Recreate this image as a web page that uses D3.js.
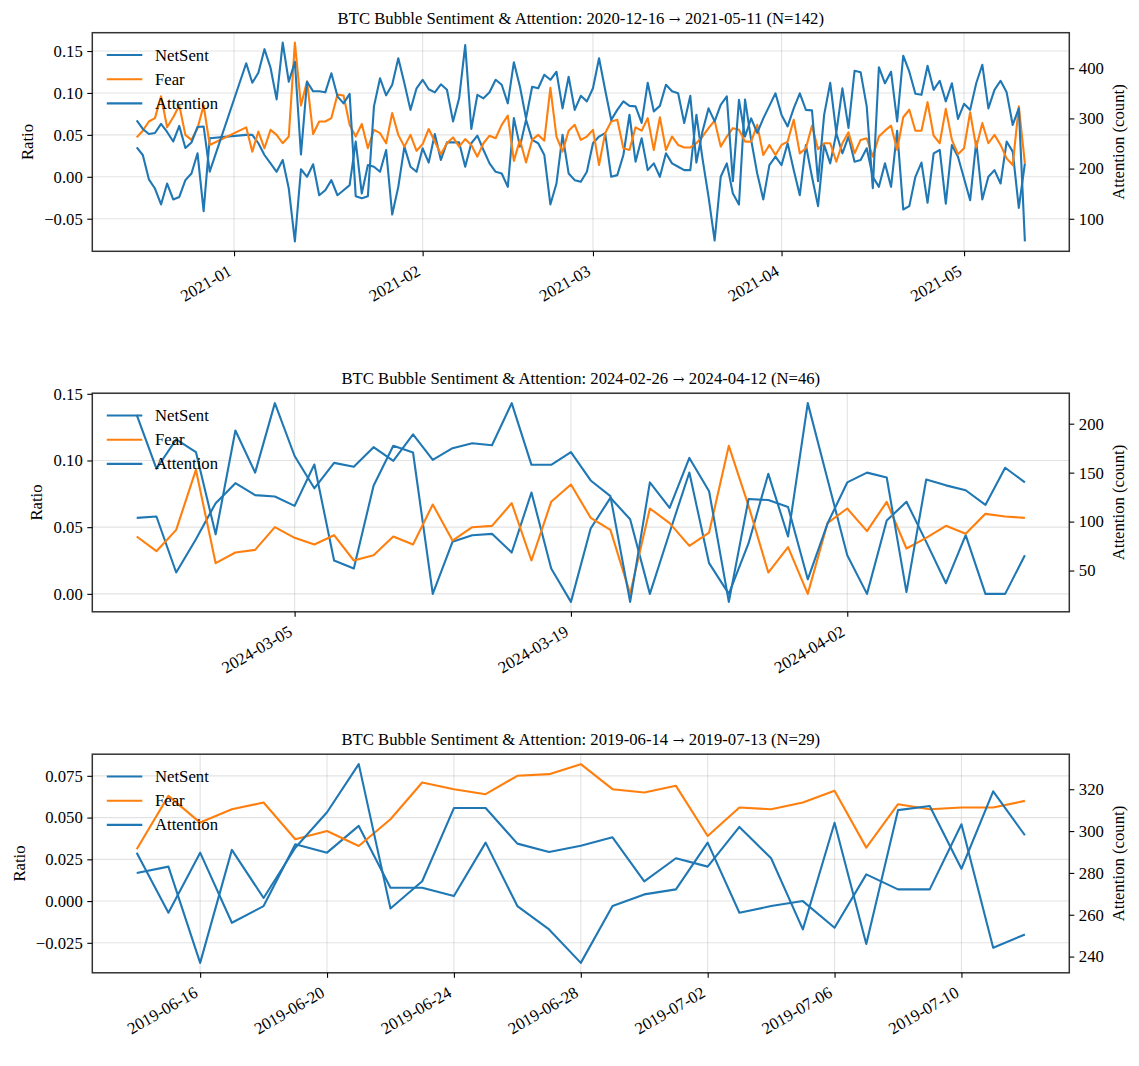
<!DOCTYPE html>
<html>
<head>
<meta charset="utf-8">
<script src="https://cdn.jsdelivr.net/npm/d3@7"></script>
<style>
  body { margin: 0; background: #fff; }
  text { font-family: "Liberation Serif", "Times New Roman", serif; }
</style>
</head>
<body>
<div id="chart"></div>
<script>
// ---------- data ----------
// panel 1: 2020-12-16 -> 2021-05-11, holiday gap in the feed
const p1Start = "2020-12-16", p1End = "2021-05-11";
const p1Missing = ["2020-12-29", "2020-12-30", "2020-12-31", "2021-01-01", "2021-01-02"];
const p1NetSent = [0.035, 0.026, -0.003, -0.014, -0.033, -0.008, -0.027, -0.024, -0.004, 0.004, 0.028, -0.041, 0.046,
  0.050, 0.050, 0.040, 0.026, 0.016, 0.006, 0.020, -0.014, -0.077, 0.009, 0.000, 0.015, -0.022, -0.016, -0.004, -0.022,
  -0.016, -0.010, 0.042, -0.020, 0.014, 0.012, 0.006, 0.032, -0.045, -0.012, 0.036, 0.012, 0.006, 0.034, 0.017, 0.051, 0.020, 0.041, 0.041, 0.041,
  0.012, 0.040, 0.049, 0.032, 0.016, 0.006, 0.004, -0.012, 0.070, 0.036, 0.068, 0.044, 0.040, 0.026, -0.033, -0.008, 0.050, 0.004,
  -0.004, -0.006, 0.006, 0.040, 0.048, 0.052, 0.000, 0.002, 0.026, 0.074, 0.018, 0.046, 0.008, 0.016, 0.000, 0.028, 0.016, 0.012, 0.008, 0.008,
  0.074, 0.022, -0.024, -0.076, 0.000, 0.016, -0.020, -0.033, 0.092, 0.044, 0.004, -0.027, 0.014, 0.024, 0.014, 0.040, 0.008, -0.022, 0.038, 0.000, -0.035,
  0.038, 0.016, 0.052, 0.028, 0.048, 0.018, 0.020, 0.034, 0.000, -0.012, 0.016, -0.012, 0.055, -0.039, -0.035, 0.000, 0.017, -0.031, 0.028, 0.032,
  -0.032, 0.038, 0.024, -0.002, -0.028, 0.042, -0.027, 0.000, 0.008, -0.008, 0.042, 0.030, -0.037, 0.016];
const p1Fear = [0.047, 0.055, 0.066, 0.070, 0.096, 0.059, 0.071, 0.085, 0.050, 0.044, 0.058, 0.085, 0.038,
  0.059, 0.030, 0.054, 0.034, 0.056, 0.050, 0.040, 0.048, 0.160, 0.085, 0.114, 0.051, 0.066, 0.066, 0.070, 0.098,
  0.097, 0.062, 0.048, 0.063, 0.034, 0.056, 0.052, 0.040, 0.076, 0.050, 0.036, 0.050, 0.031, 0.039, 0.057, 0.042, 0.027, 0.040, 0.047, 0.036,
  0.045, 0.038, 0.024, 0.040, 0.049, 0.046, 0.062, 0.073, 0.019, 0.044, 0.017, 0.044, 0.050, 0.043, 0.106, 0.048, 0.030, 0.055,
  0.062, 0.044, 0.048, 0.056, 0.014, 0.052, 0.066, 0.068, 0.034, 0.032, 0.059, 0.055, 0.070, 0.032, 0.071, 0.032, 0.048, 0.038, 0.035, 0.035,
  0.040, 0.048, 0.058, 0.067, 0.036, 0.048, 0.058, 0.056, 0.042, 0.042, 0.062, 0.026, 0.038, 0.026, 0.038, 0.042, 0.068, 0.028, 0.034, 0.061, 0.033,
  0.040, 0.040, 0.018, 0.040, 0.053, 0.028, 0.044, 0.046, 0.024, 0.048, 0.055, 0.061, 0.032, 0.071, 0.080, 0.055, 0.055, 0.089, 0.049, 0.040,
  0.081, 0.044, 0.027, 0.034, 0.077, 0.035, 0.064, 0.040, 0.050, 0.038, 0.022, 0.014, 0.084, 0.016];
const p1Attention = [296, 279, 269, 271, 289, 273, 254, 285, 241, 252, 283, 284, 194,
  410, 371, 391, 438, 401, 338, 451, 373, 413, 228, 373, 354, 354, 352, 390, 344,
  330, 349, 145, 141, 145, 324, 380, 346, 367, 420, 370, 317, 360, 377, 358, 352, 368, 357, 294, 340,
  446, 279, 347, 340, 352, 377, 367, 330, 412, 363, 300, 363, 360, 387, 377, 393, 320, 383,
  317, 345, 334, 360, 420, 357, 297, 317, 334, 325, 324, 291, 371, 314, 325, 367, 354, 350, 291, 345,
  212, 274, 320, 294, 327, 344, 175, 337, 264, 300, 271, 300, 325, 350, 307, 284, 320, 350, 317, 316, 175,
  307, 371, 271, 360, 281, 395, 392, 324, 161, 402, 370, 393, 294, 425, 393, 349, 347, 405, 357, 375,
  334, 370, 299, 329, 317, 370, 407, 320, 357, 375, 352, 287, 320, 55];
const p1XTicks = ["2021-01-01", "2021-02-01", "2021-03-01", "2021-04-01", "2021-05-01"];
const p1LeftTicks = [-0.05, 0, 0.05, 0.10, 0.15];
const p1RightTicks = [100, 200, 300, 400];

// panel 2: 2024-02-26 -> 2024-04-12 (daily)
const p2Start = "2024-02-26", p2End = "2024-04-11";
const p2NetSent = [0.057, 0.058, 0.016, 0.041, 0.068, 0.083, 0.074, 0.073, 0.066, 0.097,
  0.025, 0.019, 0.081, 0.111, 0.106, 0.000, 0.039, 0.044, 0.045, 0.031,
  0.076, 0.019, -0.006, 0.049, 0.072, 0.056, 0.000, 0.046, 0.091, 0.023,
  0.000, 0.038, 0.090, 0.043, 0.143, 0.086, 0.029, 0.000, 0.055, 0.069,
  0.039, 0.008, 0.044, 0.000, 0.000, 0.029];
const p2Fear = [0.043, 0.032, 0.048, 0.093, 0.023, 0.031, 0.033, 0.050, 0.042, 0.037,
  0.044, 0.025, 0.029, 0.043, 0.037, 0.067, 0.040, 0.050, 0.051, 0.068,
  0.025, 0.069, 0.082, 0.057, 0.048, 0.000, 0.064, 0.053, 0.036, 0.046,
  0.111, 0.066, 0.016, 0.035, 0.000, 0.053, 0.064, 0.047, 0.069, 0.034,
  0.042, 0.051, 0.045, 0.060, 0.058, 0.057];
const p2Attention = [209, 154, 184, 171, 87, 193, 150, 221, 167, 134,
  160, 156, 176, 162, 189, 163, 175, 180, 178, 221,
  158, 158, 171, 142, 126, 18, 140, 114, 165, 131,
  18, 123, 122, 115, 41, 98, 140, 150, 145, 28,
  143, 137, 132, 117, 155, 140];
const p2XTicks = ["2024-03-05", "2024-03-19", "2024-04-02"];
const p2LeftTicks = [0, 0.05, 0.10, 0.15];
const p2RightTicks = [50, 100, 150, 200];

// panel 3: 2019-06-14 -> 2019-07-13 (daily)
const p3Start = "2019-06-14", p3End = "2019-07-12";
const p3NetSent = [0.029, -0.007, 0.029, -0.013, -0.003, 0.034, 0.029, 0.045, 0.008, 0.008,
  0.003, 0.035, -0.003, -0.017, -0.037, -0.003, 0.004, 0.007, 0.035, -0.007,
  -0.003, 0.000, -0.016, 0.016, 0.007, 0.007, 0.046, -0.028, -0.020];
const p3Fear = [0.031, 0.063, 0.047, 0.055, 0.059, 0.037, 0.042, 0.033, 0.049, 0.071,
  0.067, 0.064, 0.075, 0.076, 0.082, 0.067, 0.065, 0.069, 0.039, 0.056,
  0.055, 0.059, 0.066, 0.032, 0.058, 0.055, 0.056, 0.056, 0.060];
const p3Attention = [280, 283, 237, 291, 268, 292, 309, 332, 263, 276,
  311, 311, 294, 290, 293, 297, 276, 287, 283, 302,
  287, 253, 304, 246, 310, 312, 282, 319, 298];
const p3XTicks = ["2019-06-16", "2019-06-20", "2019-06-24", "2019-06-28", "2019-07-02", "2019-07-06", "2019-07-10"];
const p3LeftTicks = [-0.025, 0, 0.025, 0.05, 0.075];
const p3RightTicks = [240, 260, 280, 300, 320];

const seriesNames = ["NetSent", "Fear", "Attention"];
const BLUE = "#1f77b4", ORANGE = "#ff7f0e";

// ---------- drawing ----------
const W = 1139, H = 1066, FS = 16.7;
const svg = d3.select("#chart").append("svg").attr("width", W).attr("height", H);
svg.append("rect").attr("width", W).attr("height", H).attr("fill", "#fff");

const parse = d3.utcParse("%Y-%m-%d");
const fmtDay = d3.utcFormat("%Y-%m-%d");

function dayList(start, end, missing) {
  const skip = new Set(missing || []);
  return d3.utcDay.range(parse(start), d3.utcDay.offset(parse(end), 1))
    .filter(d => !skip.has(fmtDay(d)));
}

// matplotlib style 5% margins
function padExtent(ext) {
  const r = ext[1] - ext[0];
  return [ext[0] - 0.05 * r, ext[1] + 0.05 * r];
}

function styleAxis(a) {
  a.attr("font-family", null).attr("font-size", null);
  a.select(".domain").remove();
  a.selectAll(".tick line").attr("stroke", "#000").attr("stroke-width", 1.1);
  a.selectAll(".tick text").attr("fill", "#000").style("font-size", FS + "px");
}

function drawPanel(p) {
  const left = 92.3, right = 1069.3, top = p.top, bottom = p.top + 218.6;
  const g = svg.append("g");

  const t0 = p.dates[0], t1 = p.dates[p.dates.length - 1];
  const span = t1 - t0;
  const x = d3.scaleUtc()
    .domain([new Date(+t0 - 0.05 * span), new Date(+t1 + 0.05 * span)])
    .range([left, right]);
  const yL = d3.scaleLinear()
    .domain(padExtent(d3.extent(p.netSent.concat(p.fear))))
    .range([bottom, top]);
  const yR = d3.scaleLinear()
    .domain(padExtent(d3.extent(p.attention)))
    .range([bottom, top]);
  const xTicks = p.xTicks.map(parse);

  // grid
  g.append("g").selectAll("line").data(xTicks).join("line")
    .attr("x1", d => x(d)).attr("x2", d => x(d))
    .attr("y1", top).attr("y2", bottom)
    .attr("stroke", "#b0b0b0").attr("stroke-opacity", 0.35).attr("stroke-width", 1.1);
  g.append("g").selectAll("line").data(p.leftTicks).join("line")
    .attr("x1", left).attr("x2", right)
    .attr("y1", d => yL(d)).attr("y2", d => yL(d))
    .attr("stroke", "#b0b0b0").attr("stroke-opacity", 0.35).attr("stroke-width", 1.1);

  // lines
  const lineL = d3.line().x((d, i) => x(p.dates[i])).y(d => yL(d));
  const lineR = d3.line().x((d, i) => x(p.dates[i])).y(d => yR(d));
  const lines = [
    { v: p.netSent, gen: lineL, color: BLUE },
    { v: p.fear, gen: lineL, color: ORANGE },
    { v: p.attention, gen: lineR, color: BLUE }
  ];
  lines.forEach(s => {
    g.append("path").datum(s.v)
      .attr("fill", "none")
      .attr("stroke", s.color)
      .attr("stroke-width", 2.1)
      .attr("stroke-linejoin", "round")
      .attr("d", s.gen);
  });

  // frame
  g.append("rect")
    .attr("x", left).attr("y", top)
    .attr("width", right - left).attr("height", bottom - top)
    .attr("fill", "none").attr("stroke", "#333").attr("stroke-width", 1.5);

  // x axis
  const ax = g.append("g").attr("transform", `translate(0,${bottom})`)
    .call(d3.axisBottom(x).tickValues(xTicks).tickFormat(d3.utcFormat(p.xFmt)).tickSize(5));
  styleAxis(ax);
  ax.selectAll(".tick text")
    .attr("y", 0).attr("dy", null).attr("text-anchor", "end")
    .attr("transform", "translate(-1.7,23) rotate(-30)");

  // left axis
  const aL = g.append("g").attr("transform", `translate(${left},0)`)
    .call(d3.axisLeft(yL).tickValues(p.leftTicks).tickFormat(d3.format(p.yFmt)).tickSize(5).tickPadding(4.5));
  styleAxis(aL);

  // right axis
  const aR = g.append("g").attr("transform", `translate(${right},0)`)
    .call(d3.axisRight(yR).tickValues(p.rightTicks).tickFormat(d3.format("d")).tickSize(5).tickPadding(4.5));
  styleAxis(aR);

  // axis labels
  const lb = aL.node().getBBox();
  g.append("text")
    .attr("transform", `translate(${left + lb.x - 7.5 - 0.22 * FS},${(top + bottom) / 2}) rotate(-90)`)
    .attr("text-anchor", "middle").style("font-size", FS + "px")
    .text("Ratio");
  const rb = aR.node().getBBox();
  g.append("text")
    .attr("transform", `translate(${right + rb.x + rb.width + 5.6 + 0.89 * FS},${(top + bottom) / 2}) rotate(-90)`)
    .attr("text-anchor", "middle").style("font-size", FS + "px")
    .text("Attention (count)");

  // title
  const title = g.append("text")
    .attr("x", (left + right) / 2).attr("y", top - 9)
    .attr("text-anchor", "middle").style("font-size", FS + "px");
  title.append("tspan").text(p.title[0]);
  title.append("tspan").style("font-family", "'DejaVu Serif', serif").style("font-size", "14px").text(" \u2192 ");
  title.append("tspan").text(p.title[1]);

  // legend (no frame)
  const leg = g.append("g");
  seriesNames.forEach((name, i) => {
    const cy = top + 22.3 + i * 24.2;
    leg.append("line")
      .attr("x1", left + 14.5).attr("x2", left + 50)
      .attr("y1", cy).attr("y2", cy)
      .attr("stroke", lines[i].color).attr("stroke-width", 2.1);
    leg.append("text")
      .attr("x", left + 62.7).attr("y", cy)
      .attr("dominant-baseline", "central")
      .style("font-size", FS + "px")
      .text(name);
  });
}

drawPanel({
  top: 32.7,
  dates: dayList(p1Start, p1End, p1Missing),
  netSent: p1NetSent, fear: p1Fear, attention: p1Attention,
  xTicks: p1XTicks, xFmt: "%Y-%m",
  leftTicks: p1LeftTicks, yFmt: ".2f", rightTicks: p1RightTicks,
  title: ["BTC Bubble Sentiment & Attention: 2020-12-16", "2021-05-11 (N=142)"]
});
drawPanel({
  top: 393.2,
  dates: dayList(p2Start, p2End),
  netSent: p2NetSent, fear: p2Fear, attention: p2Attention,
  xTicks: p2XTicks, xFmt: "%Y-%m-%d",
  leftTicks: p2LeftTicks, yFmt: ".2f", rightTicks: p2RightTicks,
  title: ["BTC Bubble Sentiment & Attention: 2024-02-26", "2024-04-12 (N=46)"]
});
drawPanel({
  top: 754.2,
  dates: dayList(p3Start, p3End),
  netSent: p3NetSent, fear: p3Fear, attention: p3Attention,
  xTicks: p3XTicks, xFmt: "%Y-%m-%d",
  leftTicks: p3LeftTicks, yFmt: ".3f", rightTicks: p3RightTicks,
  title: ["BTC Bubble Sentiment & Attention: 2019-06-14", "2019-07-13 (N=29)"]
});
</script>
</body>
</html>
